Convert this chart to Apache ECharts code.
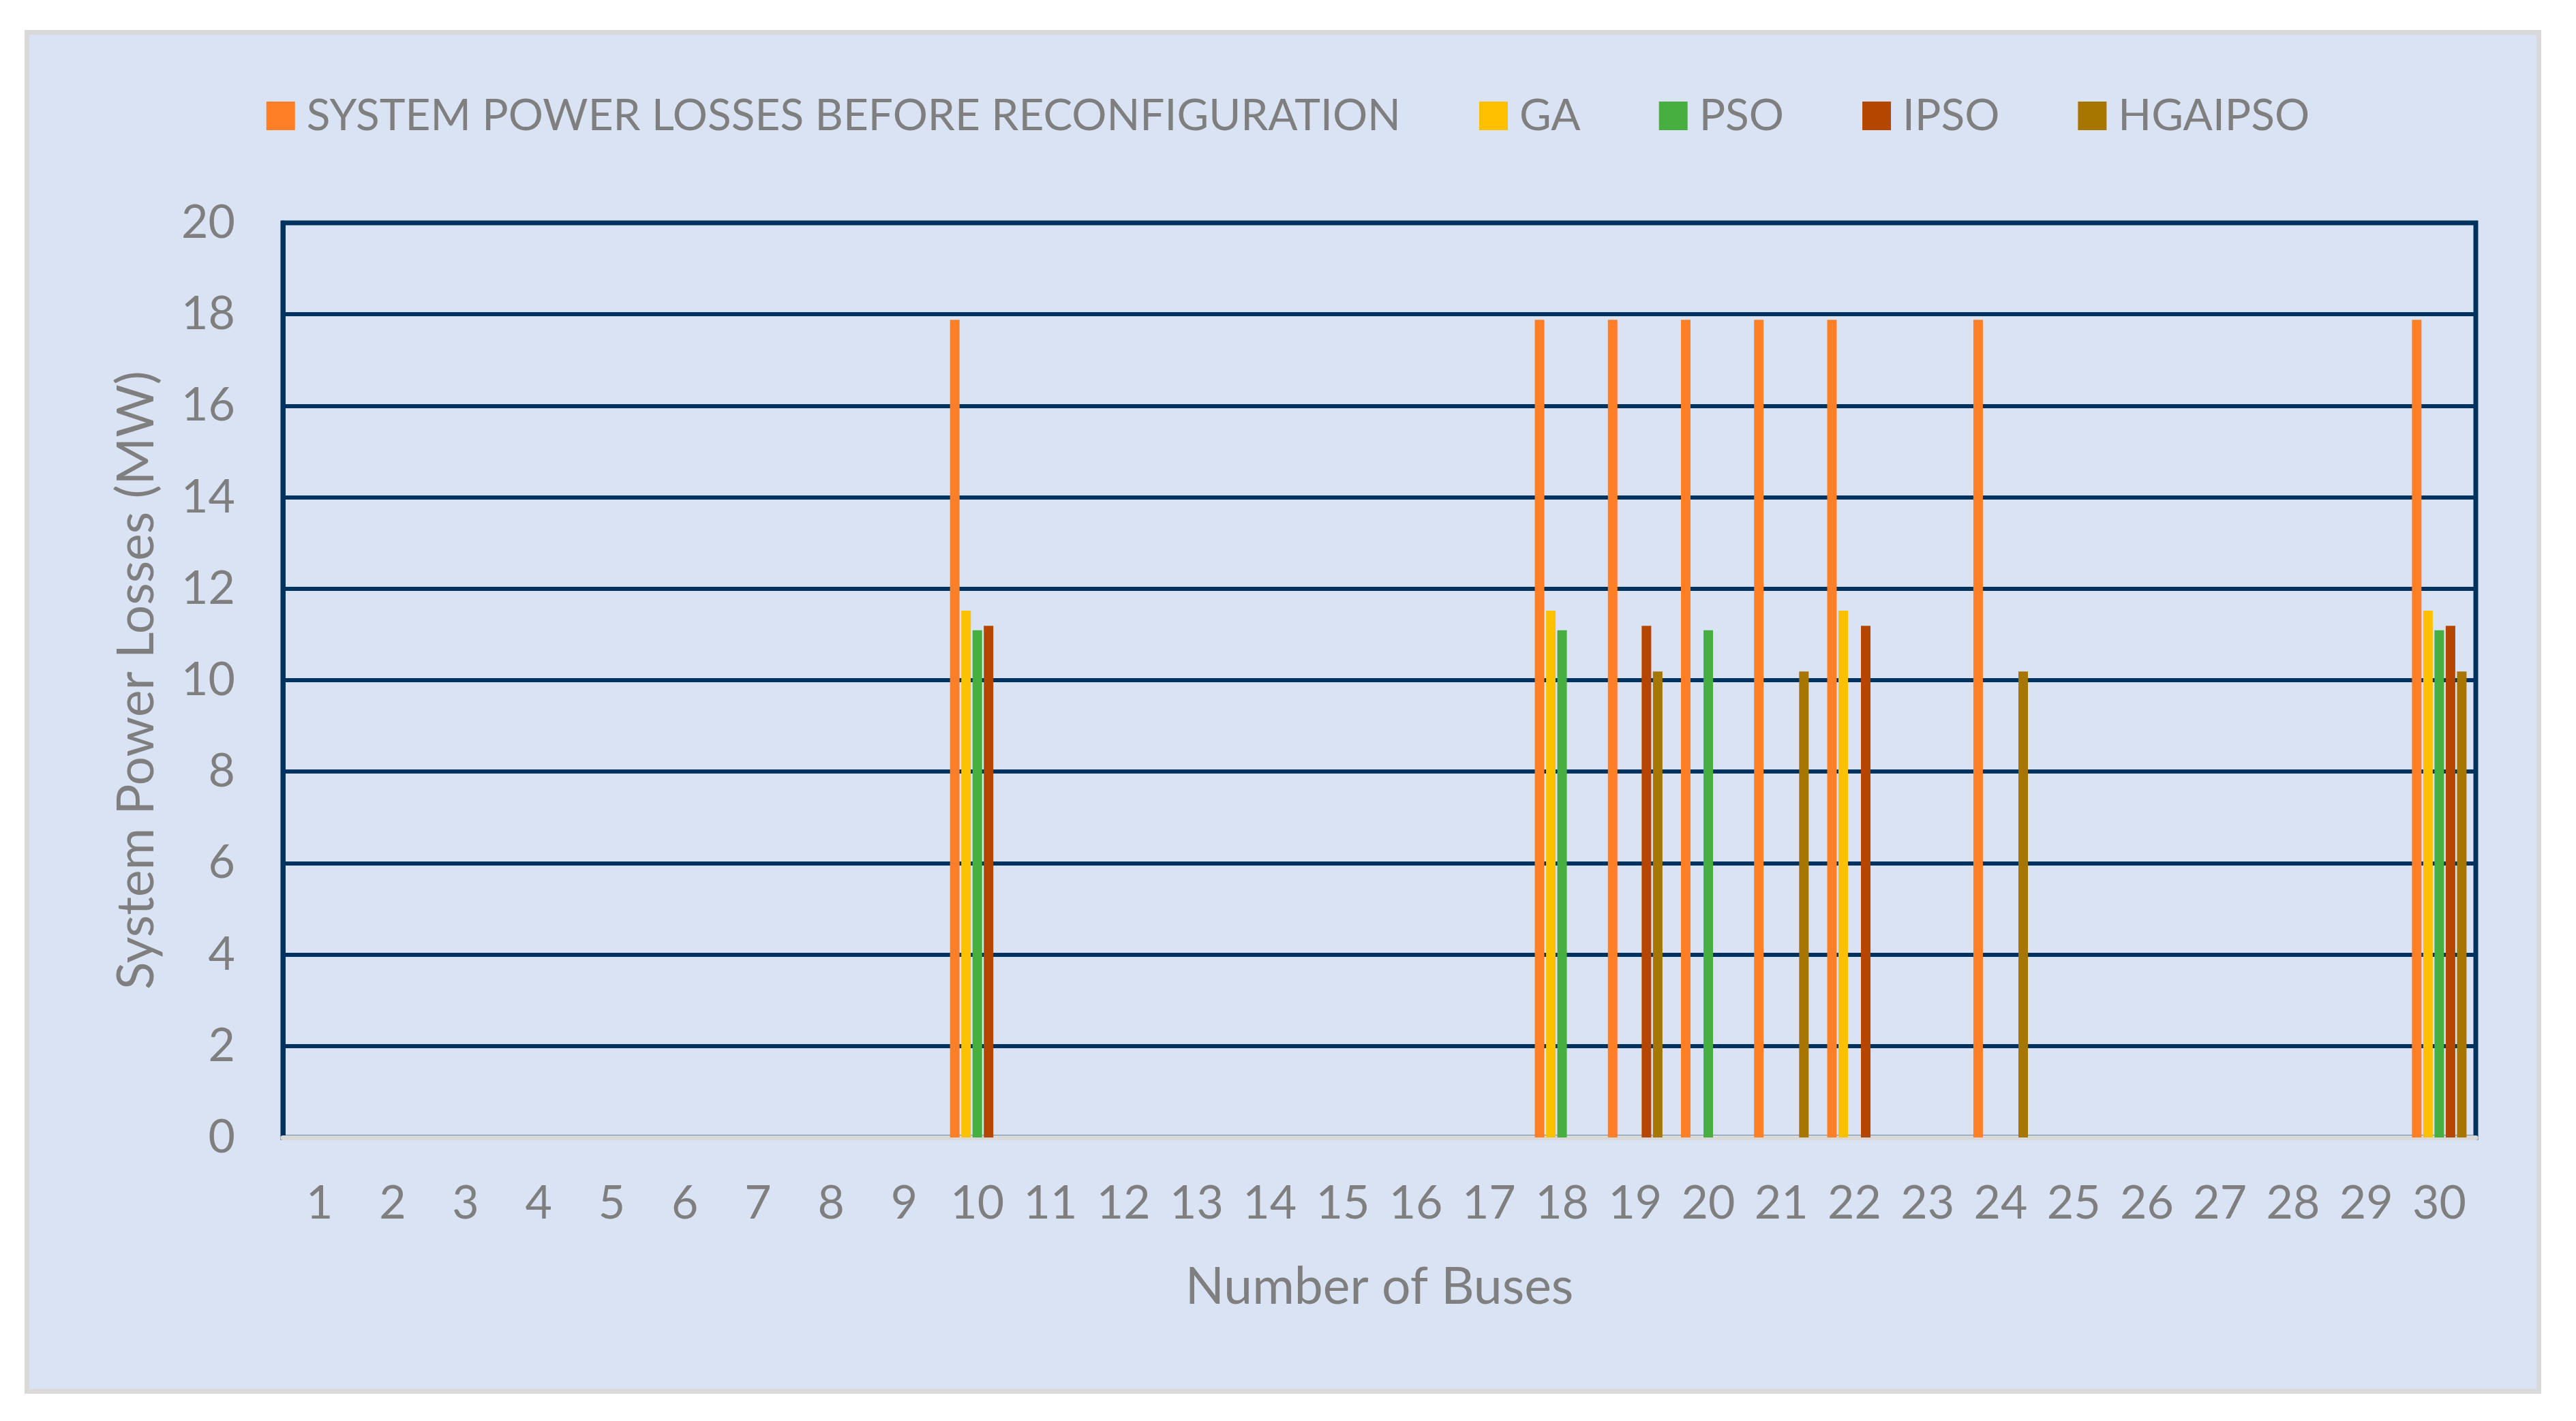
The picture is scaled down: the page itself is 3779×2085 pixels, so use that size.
<!DOCTYPE html>
<html>
<head>
<meta charset="utf-8">
<script src="https://cdn.jsdelivr.net/npm/echarts@6/dist/echarts.min.js"></script>
<style>
  html, body { margin: 0; padding: 0; background: #ffffff; }
  #box { position: absolute; left: 36px; top: 44px; width: 3678px; height: 1987px;
         border: 7px solid #D9D9D9; background: #DAE3F3; }
  #chart { position: absolute; left: 0; top: 0; width: 3779px; height: 2085px; }
</style>
</head>
<body>
<div id="box"></div>
<div id="chart"></div>
<script>
const categories = ['1','2','3','4','5','6','7','8','9','10','11','12','13','14','15',
  '16','17','18','19','20','21','22','23','24','25','26','27','28','29','30'];
const seriesNames = ['SYSTEM POWER LOSSES BEFORE RECONFIGURATION', 'GA', 'PSO', 'IPSO', 'HGAIPSO'];
// values per bus (null = no bar)
const beforeReconfig = [null,null,null,null,null,null,null,null,null,17.88,null,null,null,null,null,
  null,null,17.88,17.88,17.88,17.88,17.88,null,17.88,null,null,null,null,null,17.88];
const gaValues = [null,null,null,null,null,null,null,null,null,11.52,null,null,null,null,null,
  null,null,11.52,null,null,null,11.52,null,null,null,null,null,null,null,11.52];
const psoValues = [null,null,null,null,null,null,null,null,null,11.09,null,null,null,null,null,
  null,null,11.09,null,11.09,null,null,null,null,null,null,null,null,null,11.09];
const ipsoValues = [null,null,null,null,null,null,null,null,null,11.19,null,null,null,null,null,
  null,null,null,11.19,null,null,11.19,null,null,null,null,null,null,null,11.19];
const hgaipsoValues = [null,null,null,null,null,null,null,null,null,null,null,null,null,null,null,
  null,null,null,10.19,null,10.19,null,null,10.19,null,null,null,null,null,10.19];
const yTicks = { min: 0, max: 20, interval: 2 };

const colors = ['#FF7F27', '#FFC000', '#47AF3F', '#B54600', '#A67600'];
const allValues = [beforeReconfig, gaValues, psoValues, ipsoValues, hgaipsoValues];
const FONT = 'Lato';
const GRAY = '#7F7F7F';
const NAVY = '#003260';

const chart = echarts.init(document.getElementById('chart'), null, { renderer: 'canvas' });
chart.setOption({
  backgroundColor: 'transparent',
  animation: false,
  color: colors,
  legend: {
    top: 133,
    left: 'center',
    itemWidth: 42,
    itemHeight: 42,
    itemGap: 115,
    icon: 'rect',
    textStyle: { fontFamily: FONT, fontSize: 64, color: GRAY, padding: [0, 0, 0, 12] },
    data: seriesNames
  },
  grid: {
    left: 415, right: 147, top: 327, bottom: 416,
    show: true, borderColor: NAVY, borderWidth: 7, backgroundColor: 'transparent'
  },
  xAxis: {
    type: 'category',
    data: categories,
    name: 'Number of Buses',
    nameLocation: 'middle',
    nameGap: 182,
    nameTextStyle: { fontFamily: FONT, fontSize: 75, color: GRAY },
    axisLine: { show: true, lineStyle: { color: '#D9D9D9', width: 7 } },
    axisTick: { show: false },
    axisLabel: { fontFamily: FONT, fontSize: 68, color: GRAY, margin: 63, interval: 0 },
    splitLine: { show: false }
  },
  yAxis: {
    type: 'value',
    min: yTicks.min, max: yTicks.max, interval: yTicks.interval,
    name: 'System Power Losses (MW)',
    nameLocation: 'middle',
    nameGap: 177,
    nameTextStyle: { fontFamily: FONT, fontSize: 75, color: GRAY },
    axisLine: { show: true, lineStyle: { color: NAVY, width: 7 } },
    axisTick: { show: false },
    axisLabel: { fontFamily: FONT, fontSize: 68, color: GRAY, margin: 70 },
    splitLine: { show: true, lineStyle: { color: NAVY, width: 6 } }
  },
  series: seriesNames.map((name, i) => ({
    name: name,
    type: 'bar',
    data: allValues[i],
    barWidth: 14,
    barGap: '18%',
    itemStyle: { color: colors[i] }
  }))
});
</script>
</body>
</html>
